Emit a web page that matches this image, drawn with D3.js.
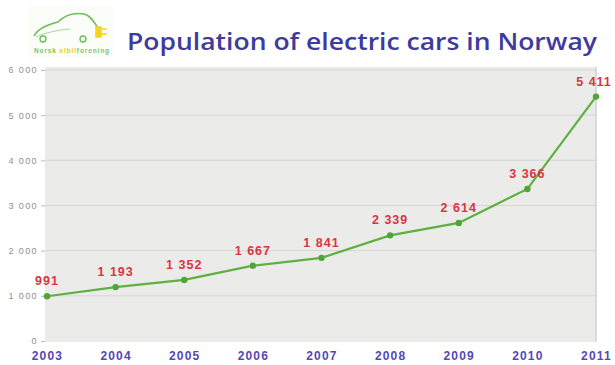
<!DOCTYPE html>
<html>
<head>
<meta charset="utf-8">
<script src="https://cdn.jsdelivr.net/npm/d3@7"></script>
<style>
  html, body { margin: 0; padding: 0; background: #fff; }
  svg { display: block; }
</style>
</head>
<body>
<svg id="chart" width="615" height="365"></svg>
<script>
// Registered electric cars in Norway, by year
const years = [2003, 2004, 2005, 2006, 2007, 2008, 2009, 2010, 2011];
const cars = [991, 1193, 1352, 1667, 1841, 2339, 2614, 3366, 5411];
const yTicks = [0, 1000, 2000, 3000, 4000, 5000, 6000];
const title = "Population of electric cars in Norway";

const svg = d3.select("#chart");
const plot = { left: 45, right: 596, top: 67, bottom: 342 };

const x = d3.scalePoint().domain(years).range([47, 596]);
const y = d3.scaleLinear().domain([0, 6000]).range([341, 70]);
const fmt = v => d3.format(",")(v).replace(/,/g, " ");

// Logo: car outline with charging plug
const logo = svg.append("g").attr("class", "logo");
logo.append("rect").attr("x", 28).attr("y", 6).attr("width", 86).attr("height", 52).attr("fill", "#fbfdf9");
logo.append("path")
  .attr("d", "M34,36 C38,28 50,24 58,22 C64,16 72,12 84,14 C90,15 94,22 98,28")
  .attr("fill", "none").attr("stroke", "#6cbf5a").attr("stroke-width", 1.6);
logo.append("path")
  .attr("d", "M36,37 C44,33 58,30 70,29")
  .attr("fill", "none").attr("stroke", "#a7d89a").attr("stroke-width", 1);
[43, 83].forEach(cx => {
  logo.append("circle").attr("cx", cx).attr("cy", 39).attr("r", 3)
    .attr("fill", "none").attr("stroke", "#6cbf5a").attr("stroke-width", 1.4);
});
logo.append("path")
  .attr("d", "M96,27 L101,27 L101,37 L96,37 Z M101,29 L107,29 M101,34 L107,34")
  .attr("fill", "#f2d51e").attr("stroke", "#f2d51e").attr("stroke-width", 1.6);
const logoText = logo.append("text").attr("x", 34).attr("y", 53)
  .attr("font-family", "Liberation Sans, Arial, sans-serif").attr("font-size", 6.5)
  .attr("font-weight", "bold")
  .attr("textLength", 75).attr("lengthAdjust", "spacing");
logoText.append("tspan").attr("fill", "#7cc46a").text("Norsk ");
logoText.append("tspan").attr("fill", "#e8cc1a").text("elbil");
logoText.append("tspan").attr("fill", "#7cc46a").text("forening");

// Title
svg.append("text")
  .attr("x", 127).attr("y", 50)
  .attr("font-family", "'Open Sans', Lato, sans-serif")
  .attr("font-weight", 600)
  .attr("font-size", 24)
  .attr("fill", "#3d3b9e")
  .attr("textLength", 470)
  .attr("lengthAdjust", "spacingAndGlyphs")
  .text(title);

// Plot background
svg.append("rect")
  .attr("x", plot.left).attr("y", plot.top)
  .attr("width", plot.right - plot.left).attr("height", plot.bottom - plot.top)
  .attr("fill", "#ebecea");
svg.append("line")
  .attr("x1", plot.right).attr("x2", plot.right)
  .attr("y1", plot.top).attr("y2", plot.bottom)
  .attr("stroke", "#c8c8c8").attr("stroke-width", 1.2);

// Horizontal gridlines
svg.append("g").selectAll("line").data(yTicks.filter(d => d > 0)).join("line")
  .attr("x1", plot.left).attr("x2", plot.right)
  .attr("y1", d => y(d)).attr("y2", d => y(d))
  .attr("stroke", "#d5d5d5").attr("stroke-width", 1);

// Y axis
const yAxis = svg.append("g")
  .attr("transform", `translate(${plot.left},0)`)
  .call(d3.axisLeft(y).tickValues(yTicks).tickFormat(fmt).tickSize(4).tickPadding(3));
yAxis.select(".domain").remove();
yAxis.selectAll(".tick line").attr("stroke", "#bdbdbd");
yAxis.selectAll(".tick text")
  .attr("fill", "#8f8f8f")
  .attr("font-family", "Liberation Sans, Arial, sans-serif")
  .attr("font-size", 9)
  .attr("letter-spacing", 1.4);

// X axis labels
const xAxis = svg.append("g")
  .attr("transform", `translate(0,${plot.bottom})`)
  .call(d3.axisBottom(x).tickSize(0).tickPadding(9));
xAxis.select(".domain").remove();
xAxis.selectAll(".tick text")
  .attr("fill", "#5548b4")
  .attr("font-family", "Liberation Sans, Arial, sans-serif")
  .attr("font-weight", "bold")
  .attr("font-size", 12)
  .attr("letter-spacing", 1.2);

// Data line
const line = d3.line().x((d, i) => x(years[i])).y(d => y(d));
svg.append("path")
  .datum(cars)
  .attr("d", line)
  .attr("fill", "none")
  .attr("stroke", "#5eb041")
  .attr("stroke-width", 2.2);

svg.append("g").selectAll("circle").data(cars).join("circle")
  .attr("cx", (d, i) => x(years[i]))
  .attr("cy", d => y(d))
  .attr("r", 3.2)
  .attr("fill", "#4fa636");

// Value labels
svg.append("g").selectAll("text").data(cars).join("text")
  .attr("x", (d, i) => x(years[i]) + (i === years.length - 1 ? -2 : 0))
  .attr("y", d => y(d) - 11)
  .attr("text-anchor", "middle")
  .attr("fill", "#d9343f")
  .attr("font-family", "Liberation Sans, Arial, sans-serif")
  .attr("font-weight", "bold")
  .attr("font-size", 12.5)
  .attr("letter-spacing", 1)
  .text(fmt);
</script>
</body>
</html>
